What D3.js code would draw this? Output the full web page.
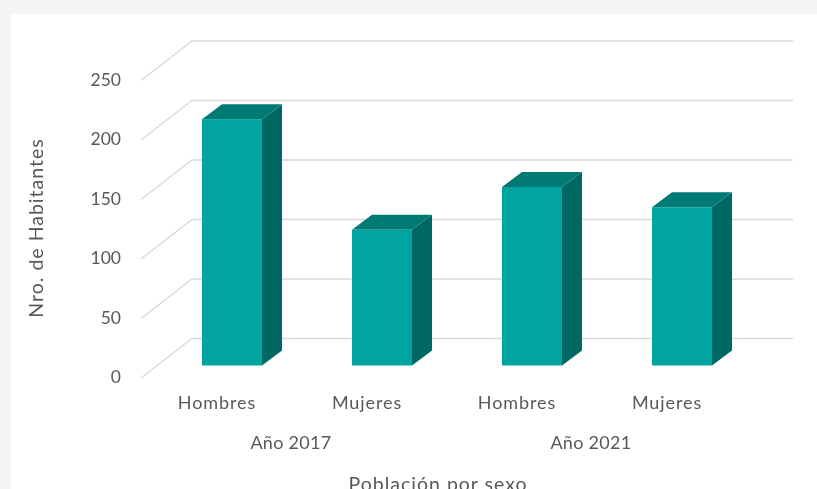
<!DOCTYPE html>
<html>
<head>
<meta charset="utf-8">
<script src="https://cdn.jsdelivr.net/npm/d3@7"></script>
<style>
  html, body { margin: 0; padding: 0; background: #f5f5f5; overflow: hidden; }
  text { font-family: Lato, "Open Sans", sans-serif; fill: #595959; }
</style>
</head>
<body>
<div id="chart"></div>
<script>
const sexLabels = ["Hombres", "Mujeres", "Hombres", "Mujeres"]
const yearLabels = ["Año 2017", "Año 2021"]
const population = [207, 114, 150, 133]
const yTicks = [0, 50, 100, 150, 200, 250]

const svg = d3.select("#chart")
  .append("svg")
    .attr("width", 817)
    .attr("height", 489)

// the reference is a soft screenshot
svg.append("filter")
    .attr("id", "soft")
  .append("feGaussianBlur")
    .attr("stdDeviation", 0.4)

// white chart panel
svg.append("rect")
  .attr("x", 11)
  .attr("y", 14)
  .attr("width", 806)
  .attr("height", 475)
  .attr("fill", "#fff")

const chart = svg.append("g").attr("filter", "url(#soft)")

// depth of the fake 3d
const depthX = 20
const depthY = 15
const wallY = 39.5

// y scale is for the back wall
const y = d3.scaleLinear().domain([0, 250]).range([338.5, 41])
const slot = d3.scaleBand().domain(d3.range(4)).range([142, 742])
const group = d3.scaleBand().domain(d3.range(2)).range([141, 741])

const grid = chart.append("g")
grid.selectAll("path")
  .data(yTicks)
  .enter()
  .append("path")
    .attr("fill", "none")
    .attr("stroke", "#d9d9d9")
    .attr("stroke-width", 1.3)
    .attr("d", d => `M141,${y(d) + wallY}L192,${y(d)}H793`)

// axis for the tick labels
const yAxis = chart.append("g")
  .attr("transform", "translate(121," + (wallY - 1) + ")")
  .call(d3.axisLeft(y).tickValues(yTicks).tickSize(0).tickPadding(0))
yAxis.select(".domain").remove()
yAxis.selectAll("text")
  .attr("font-size", "17.5px")
  .attr("dy", "0.32em")

// bars, the front sits 27px in front of the back wall floor
const barWidth = 60
const floorY = y(0) + 27
const h = d => y(0) - y(d)

const bars = chart.selectAll(".bar")
  .data(population)
  .enter()
  .append("g")
    .attr("class", "bar")
    .attr("transform", (d, i) => "translate(" + (slot(i) + 60) + "," + floorY + ")")

// side
bars.append("path")
  .attr("fill", "#006864")
  .attr("d", d => `M${barWidth},0L${barWidth + depthX},${-depthY}V${-h(d) - depthY}L${barWidth},${-h(d)}Z`)

// top
bars.append("path")
  .attr("fill", "#007a75")
  .attr("d", d => `M0,${-h(d)}L${depthX},${-h(d) - depthY}H${barWidth + depthX}L${barWidth},${-h(d)}Z`)

// front
bars.append("rect")
  .attr("fill", "#00a5a0")
  .attr("y", d => -h(d))
  .attr("width", barWidth)
  .attr("height", d => h(d))

// category labels
chart.selectAll(".sex")
  .data(sexLabels)
  .enter()
  .append("text")
    .attr("class", "sex")
    .attr("x", (d, i) => slot(i) + slot.bandwidth() / 2)
    .attr("y", 409)
    .attr("text-anchor", "middle")
    .attr("font-size", "18px")
    .attr("letter-spacing", "0.9px")
    .text(d => d)

chart.selectAll(".year")
  .data(yearLabels)
  .enter()
  .append("text")
    .attr("class", "year")
    .attr("x", (d, i) => group(i) + group.bandwidth() / 2)
    .attr("y", 449)
    .attr("text-anchor", "middle")
    .attr("font-size", "18px")
    .attr("letter-spacing", "0.3px")
    .text(d => d)

// axis titles
chart.append("text")
  .attr("x", 438)
  .attr("y", 491)
  .attr("text-anchor", "middle")
  .attr("font-size", "19.5px")
  .attr("letter-spacing", "1px")
  .text("Población por sexo")

chart.append("text")
  .attr("transform", "translate(43,228)rotate(-90)")
  .attr("text-anchor", "middle")
  .attr("font-size", "19.5px")
  .attr("letter-spacing", "1px")
  .text("Nro. de Habitantes")
</script>
</body>
</html>
